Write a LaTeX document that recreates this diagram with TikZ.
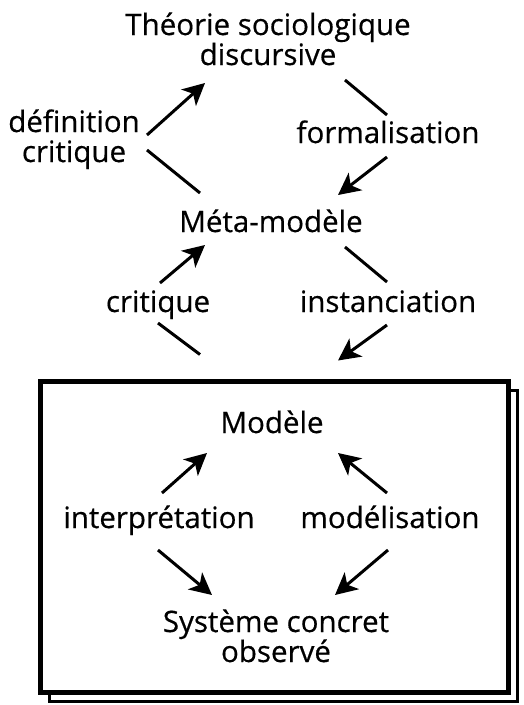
\documentclass[tikz,border=0pt]{standalone}
\usepackage{fontspec}
\setmainfont[FakeBold=0.5]{Open Sans}
\usetikzlibrary{arrows.meta, shadows}
\tikzstyle{txt}= [inner sep=0pt, anchor=base, align=center, font=\fontsize{29.5}{30}\selectfont]
\tikzstyle{fleche}= [line width=3pt]
\tikzstyle{cadre}= [draw, line width=5pt, fill=white, minimum width=468pt, minimum height=311pt,
    copy shadow={shadow xshift=9pt, shadow yshift=-9pt, line width=3pt}]

\begin{document}
\begin{tikzpicture}[x=1pt, y=1pt, >={Stealth[length=22pt, width=22pt, inset=6pt]}]
    \useasboundingbox (0,0) rectangle (523,-705);

    % box around the model level
    \node [cadre] (Box) at (274,-536.5) {};

    % texts (base = baseline of the last line)
    \node [txt] (Theorie) at (268,-65) {Théorie sociologique\\discursive};
    \node [txt] (DefCrit) at (74,-162) {définition\\critique};
    \node [txt] (Formal) at (388,-143) {formalisation};
    \node [txt] (Meta) at (271,-232) {Méta-modèle};
    \node [txt] (Crit) at (158,-312) {critique};
    \node [txt] (Inst) at (388,-312) {instanciation};
    \node [txt] (Modele) at (272,-433) {Modèle};
    \node [txt] (Interp) at (159,-528) {interprétation};
    \node [txt] (Modelis) at (390,-528) {modélisation};
    \node [txt] (Systeme) at (276,-662) {Système concret\\observé};

    % upper loop
    \draw [fleche, ->] ([shift={(73,27)}]DefCrit.base) -- ([shift={(-63,-18)}]Theorie.base);
    \draw [fleche] ([shift={(-71,39)}]Meta.base) -- ([shift={(73,12)}]DefCrit.base);
    \draw [fleche] ([shift={(77,-15)}]Theorie.base) -- ([shift={(-1,28)}]Formal.base);
    \draw [fleche, ->] ([shift={(-1,-14)}]Formal.base) -- ([shift={(67,37)}]Meta.base);

    % middle loop
    \draw [fleche, ->] ([shift={(2,29)}]Crit.base) -- ([shift={(-66,-13)}]Meta.base);
    \draw [fleche] ([shift={(-74,24)}]Box.north) -- ([shift={(0,-11)}]Crit.base);
    \draw [fleche] ([shift={(74,-15)}]Meta.base) -- ([shift={(-1,30)}]Inst.base);
    \draw [fleche, ->] ([shift={(-1,-13)}]Inst.base) -- ([shift={(64,18)}]Box.north);

    % inside the box
    \draw [fleche, ->] ([shift={(3,35)}]Interp.base) -- ([shift={(-65,-20)}]Modele.base);
    \draw [fleche, ->] ([shift={(-3,35)}]Modelis.base) -- ([shift={(66,-20)}]Modele.base);
    \draw [fleche, ->] ([shift={(-1,-22)}]Interp.base) -- ([shift={(-64,67)}]Systeme.base);
    \draw [fleche, ->] ([shift={(-2,-22)}]Modelis.base) -- ([shift={(59,67)}]Systeme.base);

\end{tikzpicture}
\end{document}
